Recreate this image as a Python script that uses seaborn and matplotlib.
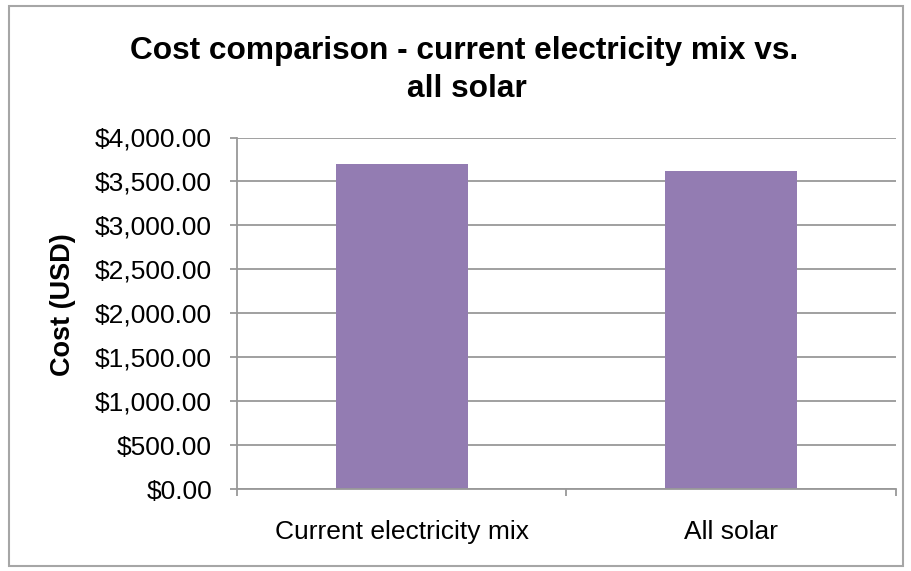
import pandas as pd
import seaborn as sns
import matplotlib.pyplot as plt
from matplotlib.patches import Rectangle
from matplotlib.ticker import FuncFormatter, FixedLocator

# dados
categories = ["Current electricity mix", "All solar"]
costs = [3697, 3614]
title_lines = ["Cost comparison - current electricity mix vs.", "all solar"]

df = pd.DataFrame({"scenario": categories, "cost": costs})

sns.set_style("white")
plt.rcParams['font.family'] = ['Liberation Sans', 'DejaVu Sans']
plt.rcParams['text.color'] = 'black'
plt.rcParams['xtick.color'] = 'black'
plt.rcParams['ytick.color'] = 'black'

W, H = 912, 571
fig = plt.figure(figsize=(W / 100, H / 100), dpi=100)
# moldura externa do grafico (estilo excel)
fig.patches.append(Rectangle((9 / W, 5 / H), 894 / W, 560 / H, transform=fig.transFigure,
                             fill=False, edgecolor="#a6a6a6", linewidth=1.5))

ax = fig.add_axes([237 / W, 1 - 489.3 / H, 659 / W, 351.8 / H])
sns.barplot(x="scenario", y="cost", data=df, color="#937cb2", width=0.4, saturation=1,
            linewidth=0, ax=ax)

ax.set_ylim(0, 4000)
ax.set_xlim(-0.5, 1.5)
ax.set_yticks(range(0, 4001, 500))
ax.yaxis.set_major_formatter(FuncFormatter(lambda v, p: "${:,.2f}".format(v)))
ax.grid(axis="y", color="#999999", linewidth=1.3)
ax.set_axisbelow(True)

for s in ["top", "right"]:
    ax.spines[s].set_visible(False)
ax.spines["left"].set_color("#999999")
ax.spines["bottom"].set_color("#999999")
ax.spines["left"].set_linewidth(1.3)
ax.spines["bottom"].set_linewidth(1.3)

ax.tick_params(axis="y", length=5, width=1.3, color="#999999", labelsize=19, pad=13, left=True)
ax.tick_params(axis="x", which="major", length=0, labelsize=19, pad=22)
ax.xaxis.set_minor_locator(FixedLocator([-0.5, 0.5, 1.5]))
ax.tick_params(axis="x", which="minor", length=5, width=1.3, color="#999999", bottom=True)

ax.set_xlabel("")
ax.set_ylabel("")
fig.text(63 / W, 1 - 305 / H, "Cost (USD)", rotation=90, ha="center", va="center",
         fontsize=19.5, fontweight="bold")

# titulo em duas linhas
fig.text(464 / W, 1 - 59.3 / H, title_lines[0], ha="center", va="baseline",
         fontsize=22.8, fontweight="bold")
fig.text(467 / W, 1 - 96.7 / H, title_lines[1], ha="center", va="baseline",
         fontsize=22.8, fontweight="bold")

plt.savefig("out.png", dpi=100)
